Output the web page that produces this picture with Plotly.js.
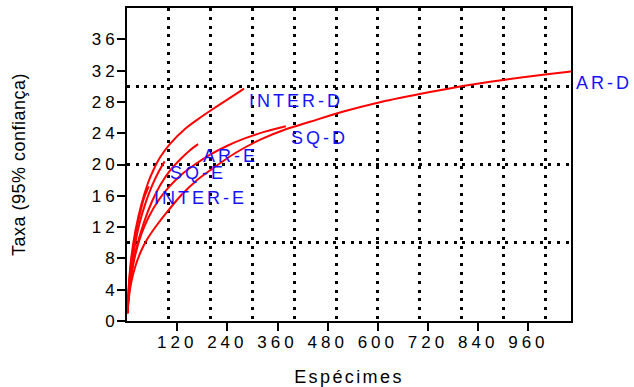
<!DOCTYPE html>
<html><head><meta charset="utf-8">
<script src="https://cdn.plot.ly/plotly-3.0.1.min.js"></script>
<style>
html,body{margin:0;padding:0;background:#fff;}
#chart{width:634px;height:387px;}
.xtick text{letter-spacing:4px;}
.ytick text{letter-spacing:4px;}
.annotation-text{letter-spacing:3px;}
.g-xtitle text{letter-spacing:2.4px;}
.g-ytitle text{letter-spacing:0.5px;}
</style></head><body><div id="chart"></div>
<script>
// Series names
const seriesNames = ['INTER-D', 'AR-D', 'SQ-D', 'AR-E', 'SQ-E', 'INTER-E'];

// Rarefaction curves (specimens vs taxa)
const interD_x = [1, 5, 10, 20, 35, 50, 64, 80, 104, 140, 170, 200, 240, 280];
const interD_y = [1, 5, 8, 11.5, 15, 17.6, 19.4, 21, 22.7, 24.6, 25.8, 26.9, 28.3, 29.7];

const arD_x = [1, 5, 10, 20, 35, 50, 72, 100, 130, 165, 200, 260, 320, 380, 440, 520, 600, 700, 800, 900, 1000, 1062];
const arD_y = [1, 3.2, 4.9, 7, 9.1, 10.6, 12.3, 14.2, 16.1, 17.9, 19.3, 21.5, 23.2, 24.5, 25.5, 26.8, 27.9, 29, 30, 30.8, 31.5, 31.9];

const sqD_x = [1, 5, 10, 20, 35, 52, 75, 100, 130, 165, 200, 240, 280, 330, 380];
const sqD_y = [1, 3.6, 5.7, 8.5, 11.2, 13.3, 15.4, 17.1, 18.7, 20.1, 21.3, 22.4, 23.3, 24.2, 24.9];

const arE_x = [1, 5, 10, 20, 40, 60, 80, 104, 130, 150, 170];
const arE_y = [1, 3.8, 6, 8.8, 12.5, 15.3, 17.4, 19.3, 20.8, 21.8, 22.6];

const sqE_x = [1, 5, 10, 20, 30, 45, 60, 75, 90];
const sqE_y = [1, 4.2, 6.8, 10, 12.5, 15.2, 17.3, 19, 20.4];

const interE_x = [1, 5, 10, 20, 30, 40, 52];
const interE_y = [1, 4.8, 7.5, 11, 13.5, 15.6, 17.2];

// Axis ticks
const xTickVals = [120, 240, 360, 480, 600, 720, 840, 960];
const yTickVals = [0, 4, 8, 12, 16, 20, 24, 28, 32, 36];
const xGridVals = [100, 200, 300, 400, 500, 600, 700, 800, 900, 1000];
const yGridVals = [10, 20, 30, 40];

const xs = [interD_x, arD_x, sqD_x, arE_x, sqE_x, interE_x];
const ys = [interD_y, arD_y, sqD_y, arE_y, sqE_y, interE_y];

const FONT = 'Liberation Sans, Arial, sans-serif';

const traces = seriesNames.map((n, i) => ({
  type: 'scatter', mode: 'lines', name: n,
  x: xs[i], y: ys[i],
  line: {color: '#ff0000', width: 2, shape: 'spline', smoothing: 0.8},
  hoverinfo: 'skip', showlegend: false
}));
traces.unshift({type: 'scatter', mode: 'lines', x: [], y: [], xaxis: 'x2', yaxis: 'y2', showlegend: false, hoverinfo: 'skip'});

const annotations = seriesNames.map((n, i) => ({
  x: xs[i][xs[i].length - 1], y: ys[i][ys[i].length - 1],
  xref: 'x', yref: 'y', text: n, showarrow: false,
  xanchor: 'left', yanchor: 'top', xshift: 3, yshift: 0,
  font: {family: FONT, size: 18, color: '#1414ff'}
}));

const xRange = [0, 1062];
const yRange = [0, 40];

const layout = {
  width: 634, height: 387,
  margin: {l: 127, r: 63, t: 8, b: 66},
  paper_bgcolor: '#fff', plot_bgcolor: '#fff',
  showlegend: false,
  xaxis: {
    range: xRange, tickvals: xTickVals, ticks: 'outside', ticklen: 8, tickwidth: 2, tickcolor: '#000',
    ticklabelstandoff: -3,
    showline: true, linewidth: 2, linecolor: '#000', mirror: true,
    showgrid: false, zeroline: false,
    tickfont: {family: FONT, size: 17, color: '#000'},
    title: {text: 'Espécimes', font: {family: FONT, size: 18, color: '#000'}}
  },
  yaxis: {
    range: yRange, tickvals: yTickVals, ticks: 'outside', ticklen: 8, tickwidth: 2, tickcolor: '#000',
    ticklabelstandoff: -5,
    showline: true, linewidth: 2, linecolor: '#000', mirror: true,
    showgrid: false, zeroline: false,
    tickfont: {family: FONT, size: 17, color: '#000'},
    title: {text: 'Taxa (95% confiança)', standoff: 61, font: {family: FONT, size: 18, color: '#000'}}
  },
  xaxis2: {
    overlaying: 'x', anchor: 'y', range: xRange, tickvals: xGridVals,
    showgrid: true, gridcolor: '#000', gridwidth: 3, griddash: '3px,5.8px',
    showticklabels: false, ticks: '', showline: false, zeroline: false
  },
  yaxis2: {
    overlaying: 'y', anchor: 'x', range: yRange, tickvals: yGridVals,
    showgrid: true, gridcolor: '#000', gridwidth: 3, griddash: '3px,5.6px',
    showticklabels: false, ticks: '', showline: false, zeroline: false
  },
  annotations: annotations
};

Plotly.newPlot('chart', traces, layout, {displayModeBar: false, staticPlot: true});
</script></body></html>
